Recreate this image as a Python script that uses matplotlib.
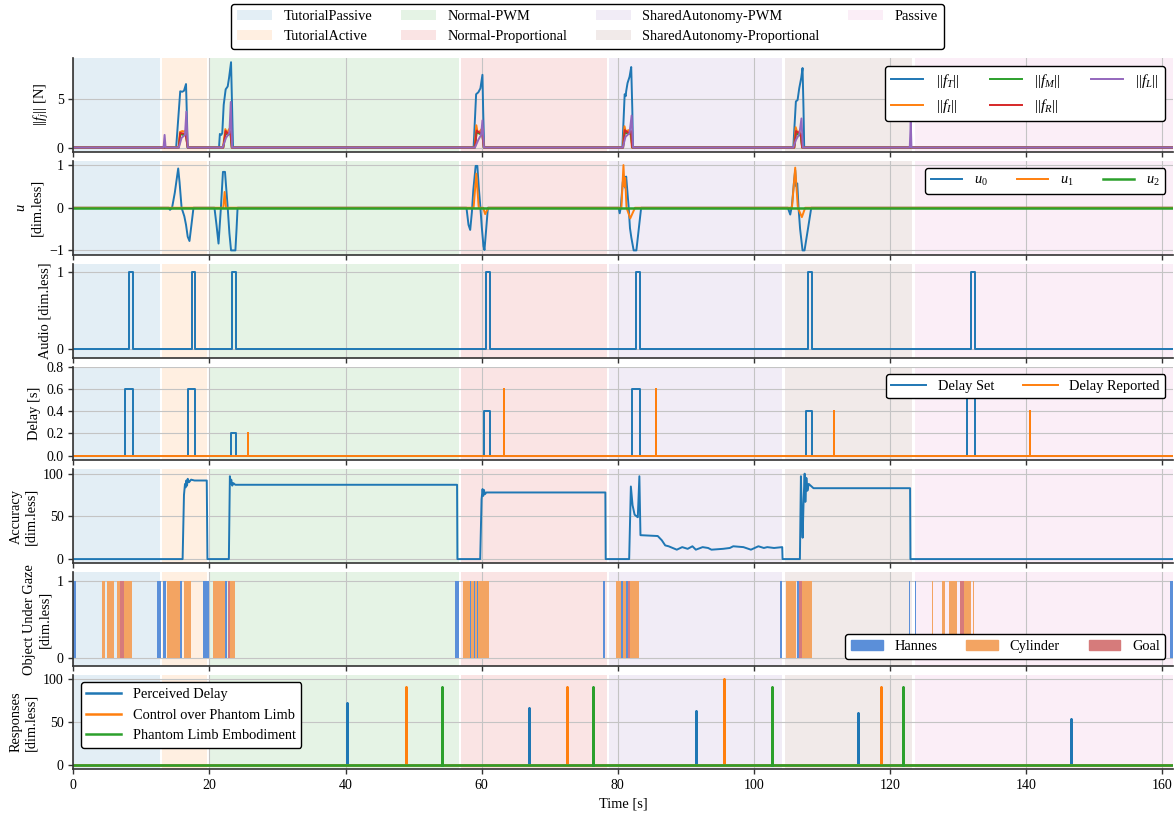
import numpy as np
import matplotlib
matplotlib.use("Agg")
import matplotlib.pyplot as plt
from matplotlib.patches import Patch

plt.rcParams.update({
    "font.family": "serif",
    "font.serif": ["Liberation Serif", "DejaVu Serif"],
    "mathtext.fontset": "custom",
    "mathtext.rm": "Liberation Serif",
    "mathtext.it": "Liberation Serif:italic",
    "mathtext.bf": "Liberation Serif:bold",
    "mathtext.fallback": "stix",
    "font.size": 10.4,
    "axes.unicode_minus": True,
    "legend.edgecolor": "black",
    "legend.framealpha": 1.0,
    "legend.fancybox": True,
    "legend.handlelength": 2.4,
})

T_END = 161.6

# ---- experiment phases ----
phase_names = ["TutorialPassive", "TutorialActive", "Normal-PWM", "Normal-Proportional",
               "SharedAutonomy-PWM", "SharedAutonomy-Proportional", "Passive"]
phase_start = [0.0, 12.95, 20.0, 57.0, 78.7, 104.6, 123.7]
phase_end = [12.7, 19.65, 56.7, 78.4, 104.2, 123.3, T_END]
phase_colors = ["tab:blue", "tab:orange", "tab:green", "tab:red",
                "tab:purple", "tab:brown", "tab:pink"]

# ---- finger forces [N] ----
fT_t = [0, 15.1, 15.7, 16.0, 16.25, 16.4, 16.55, 16.65, 16.8,
        21.4, 21.53, 21.73, 21.88, 22.09, 22.38, 22.68, 22.88, 23.17, 23.33, 23.46,
        58.83, 59.2, 59.53, 59.83, 60.13, 60.23, 60.38,
        80.7, 81.04, 81.19, 81.26, 81.46, 81.76, 82.0, 82.16, 82.26,
        105.83, 106.21, 106.46, 106.7, 107.0, 107.19, 107.33, 107.43, T_END]
fT_v = [0, 0, 5.8, 5.75, 5.85, 6.2, 6.55, 4.0, 0,
        0, 1.4, 1.3, 1.5, 4.4, 6.0, 6.3, 7.2, 8.8, 4.0, 0,
        0, 5.5, 5.7, 6.1, 7.5, 4.0, 0,
        0, 5.5, 5.3, 5.8, 6.65, 7.3, 8.3, 4.0, 0,
        0, 4.75, 4.9, 6.1, 7.2, 8.2, 4.0, 0, 0]

fI_t = [0, 15.45, 15.65, 16.0, 16.3, 16.6, 16.8,
        21.98, 22.33, 22.58, 22.88, 23.13, 23.28,
        58.98, 59.23, 59.43, 59.78, 60.13, 60.33,
        80.76, 81.01, 81.26, 81.56, 81.86, 82.11,
        105.93, 106.18, 106.43, 106.73, 106.98, 107.13, T_END]
fI_v = [0, 0, 1.6, 1.7, 1.65, 1.8, 0,
        0, 1.9, 1.5, 1.9, 1.6, 0,
        0, 2.3, 1.5, 1.7, 2.0, 0,
        0, 2.2, 1.5, 1.8, 1.6, 0,
        0, 2.1, 1.5, 1.7, 1.2, 0, 0]

fM_t = [0, 15.5, 15.7, 16.1, 16.5, 16.8,
        22.03, 22.38, 22.73, 23.08, 23.28,
        59.03, 59.28, 59.73, 60.08, 60.33,
        80.81, 81.06, 81.56, 81.96, 82.16,
        105.98, 106.23, 106.63, 106.93, 107.13, T_END]
fM_v = [0, 0, 1.4, 1.3, 1.4, 0,
        0, 1.5, 1.3, 1.5, 0,
        0, 1.6, 1.4, 1.5, 0,
        0, 1.6, 1.4, 1.5, 0,
        0, 1.5, 1.3, 1.2, 0, 0]

fR_t = fM_t
fR_v = [0, 0, 1.5, 1.45, 1.4, 0,
        0, 1.7, 1.4, 1.6, 0,
        0, 1.75, 1.5, 1.6, 0,
        0, 1.8, 1.5, 1.7, 0,
        0, 1.7, 1.5, 1.4, 0, 0]

fL_t = [0, 13.25, 13.4, 13.55,
        15.5, 15.9, 16.4, 16.6, 16.8,
        21.93, 22.43, 22.93, 23.13, 23.33,
        59.03, 59.53, 59.93, 60.13, 60.33,
        80.76, 81.16, 81.76, 82.06, 82.26,
        105.83, 106.23, 106.73, 107.03, 107.23,
        122.95, 123.1, 123.2, T_END]
fL_v = [0, 0, 1.3, 0,
        0, 1.0, 1.3, 3.7, 0,
        0, 1.0, 1.5, 4.7, 0,
        0, 0.8, 1.3, 2.8, 0,
        0, 1.1, 1.5, 3.3, 0,
        0, 0.8, 1.4, 3.0, 0,
        0, 2.7, 0, 0]

# ---- control commands u ----
u0_t = [0, 14.0, 14.2, 14.5, 14.9, 15.4, 15.6, 15.9, 16.1, 16.3, 16.55, 16.8, 17.06, 17.35, 17.65,
        20.73, 21.03, 21.33, 21.68, 21.98, 22.28, 22.68, 22.93, 23.17, 23.81, 23.98, 24.13,
        57.78, 58.08, 58.33, 58.58, 58.78, 59.13, 59.38, 59.58, 59.83, 60.03, 60.28, 60.43, 60.68, 60.93,
        80.16, 80.31, 80.46, 80.76, 80.96, 81.11, 81.26, 81.63, 81.82, 82.02, 82.36, 82.76, 83.11, 83.46,
        105.03, 105.38, 105.63, 105.93, 106.11, 106.26, 106.41, 106.6, 106.83, 107.19, 107.48, 107.98, 108.47,
        T_END]
u0_v = [0, 0, -0.05, 0, 0.35, 0.92, 0.6, 0.0, -0.1, -0.2, -0.4, -0.68, -0.78, -0.4, 0,
        0, -0.4, -0.84, 0, 0.84, 0.84, 0, -0.6, -1.0, -1.0, -0.5, 0,
        0, -0.4, -0.52, -0.1, 0.4, 0.98, 0.98, 0.5, 0, -0.45, -0.9, -0.99, -0.5, 0,
        0, -0.13, 0, 0.6, 0.73, 0.47, 0.73, 0, -0.48, -0.7, -1.0, -1.0, -0.5, 0,
        0, -0.16, 0.05, 0.6, 0.88, 0.5, 0.57, 0, -0.5, -1.0, -1.0, -0.5, 0,
        0]
u1_t = [0, 22.03, 22.23, 22.43,
        58.83, 59.23, 59.58, 60.23, 60.53, 60.98,
        80.56, 80.86, 81.01, 81.11, 81.31, 81.86, 82.56,
        105.63, 106.11, 106.33, 106.5, 107.09, 107.58, T_END]
u1_v = [0, 0, 0.37, 0,
        0, 0.8, 0, 0, -0.15, 0,
        0, 1.0, 0.5, 0.7, 0, -0.25, 0,
        0, 0.94, 0.4, 0, -0.22, 0, 0]
u2_t = [0, T_END]
u2_v = [0, 0]

# ---- audio cue ----
audio_on = [8.2, 17.4, 23.3, 60.7, 82.7, 108.05, 131.95]
audio_off = [8.7, 17.9, 23.9, 61.2, 83.25, 108.6, 132.5]

# ---- delay [s] ----
delay_on = [7.6, 16.8, 23.1, 60.3, 82.1, 107.7, 131.4]
delay_off = [8.7, 17.9, 23.9, 61.2, 83.25, 108.6, 132.5]
delay_val = [0.6, 0.6, 0.2, 0.4, 0.6, 0.4, 0.6]
reported_t = [25.7, 63.3, 85.7, 111.8, 140.6]
reported_v = [0.2, 0.6, 0.6, 0.4, 0.4]

# ---- accuracy ----
acc_t = [0, 16.05, 16.25, 16.4, 16.5, 16.6, 16.7, 16.8, 17.0, 17.3, 17.8, 19.6, 19.7,
         22.85, 23.0, 23.1, 23.2, 23.35, 23.5, 23.8, 56.4, 56.45,
         59.8, 60.0, 60.15, 60.25, 60.35, 60.5, 60.7, 78.2, 78.25,
         81.7, 81.95, 82.2, 82.5, 82.8, 82.97, 83.2, 83.36, 85.9, 86.5, 87.0, 87.5, 88.1, 88.7,
         89.5, 90.3, 91.0, 91.5, 92.5, 93.3, 93.8, 95.5, 96.5, 97.0, 98.5, 99.6, 100.7,
         101.5, 102.0, 103.0, 104.2, 104.25,
         106.8, 106.95, 107.05, 107.2, 107.35, 107.5, 107.6, 107.75, 107.9, 108.1, 108.8,
         123.0, 123.05, T_END]
acc_v = [0, 0, 75, 88, 84, 92, 86, 94, 90, 93, 92, 92, 0,
         0, 97, 88, 93, 86, 89, 87, 87, 0,
         0, 70, 82, 74, 81, 76, 78, 78, 0,
         0, 85, 63, 52, 50, 49, 97, 28, 27, 22, 16, 15, 13, 11,
         14, 12, 15, 11, 14, 13, 11, 12, 13, 15, 14, 11, 15,
         13, 14, 13, 14, 0,
         0, 97, 60, 25, 70, 100, 67, 95, 80, 88, 83,
         83, 0, 0]

# ---- object under gaze: (start, end) intervals ----
hannes_start = [0.0, 12.27, 13.16, 15.71, 19.0, 22.35, 56.04, 58.3, 58.86, 59.31,
                77.9, 80.5, 81.23, 103.85, 106.43, 122.9, 123.73, 161.2]
hannes_end = [0.35, 12.87, 13.55, 16.0, 19.94, 22.6, 56.7, 58.47, 59.09, 59.54,
              78.15, 80.73, 81.5, 104.2, 106.6, 123.05, 123.9, 161.6]
cylinder_start = [4.2, 5.0, 6.38, 7.46, 13.75, 16.2, 20.53, 23.08, 57.28, 58.47, 59.09,
                  59.54, 79.7, 80.73, 81.85, 104.8, 107.15, 126.2, 127.65, 128.7,
                  130.95, 132.24]
cylinder_end = [4.66, 5.98, 6.87, 8.64, 15.61, 17.33, 22.35, 23.82, 58.3, 58.86, 59.31,
                61.12, 80.5, 81.23, 83.1, 106.2, 108.55, 126.35, 128.15, 129.95,
                131.9, 132.4]
goal_start = [6.87, 22.74, 81.5, 106.7, 130.4]
goal_end = [7.46, 23.08, 81.85, 107.15, 130.95]

# ---- questionnaire responses ----
perceived_t = [40.2, 67.0, 91.5, 115.4, 146.6]
perceived_v = [72, 67, 63, 61, 54]
control_t = [48.9, 72.6, 95.7, 118.7]
control_v = [91, 91, 100, 91]
embodiment_t = [54.2, 76.4, 102.7, 121.9]
embodiment_v = [91, 91, 91, 91]


def pulse_series(on, off, val):
    t, v = [0.0], [0.0]
    for a, b, h in zip(on, off, val):
        t += [a, a, b, b]
        v += [0.0, h, h, 0.0]
    t.append(T_END)
    v.append(0.0)
    return t, v


def spike_series(times, vals):
    t, v = [0.0], [0.0]
    for a, h in zip(times, vals):
        t += [a, a, a]
        v += [0.0, h, 0.0]
    t.append(T_END)
    v.append(0.0)
    return t, v


fig = plt.figure(figsize=(11.75, 8.16), dpi=100)
axes = fig.subplots(7, 1, sharex=True)
fig.subplots_adjust(left=0.0625, right=0.998, top=0.929, bottom=0.0576, hspace=0.096)

for ax in axes:
    for s, e, c in zip(phase_start, phase_end, phase_colors):
        ax.axvspan(s, e, color=c, alpha=0.12, lw=0, zorder=0)
    ax.grid(True, color="#c4c4c4", lw=0.8, zorder=0.5)
    ax.set_axisbelow(True)
    for side in ("top", "right"):
        ax.spines[side].set_visible(False)
    for side in ("left", "bottom"):
        ax.spines[side].set_color("#333333")
        ax.spines[side].set_linewidth(1.2)
    ax.tick_params(direction="out", length=3.5, width=1.0, color="#333333", labelsize=10)
    ax.set_xlim(0, T_END)

lw = 1.4
# forces
ax = axes[0]
ax.plot(fT_t, fT_v, color="tab:blue", lw=lw, label=r"$||f_T||$")
ax.plot(fI_t, fI_v, color="tab:orange", lw=lw, label=r"$||f_I||$")
ax.plot(fM_t, fM_v, color="tab:green", lw=lw, label=r"$||f_M||$")
ax.plot(fR_t, fR_v, color="tab:red", lw=lw, label=r"$||f_R||$")
ax.plot(fL_t, fL_v, color="tab:purple", lw=lw, label=r"$||f_L||$")
ax.set_yticks([0, 5])
ax.set_ylabel(r"$||f_j||$ [N]")
ax.legend(loc="upper right", ncol=3, fontsize=11, handlelength=2.1)

# commands
ax = axes[1]
ax.plot(u0_t, u0_v, color="tab:blue", lw=lw, label=r"$u_0$")
ax.plot(u1_t, u1_v, color="tab:orange", lw=lw, label=r"$u_1$")
ax.plot(u2_t, u2_v, color="tab:green", lw=1.8, label=r"$u_2$")
ax.set_ylim(-1.1, 1.1)
ax.set_yticks([-1, 0, 1])
ax.set_ylabel("$u$\n[dim.less]")
ax.legend(loc="upper right", ncol=3, handlelength=2.2)

# audio
ax = axes[2]
at, av = pulse_series(audio_on, audio_off, [1.0] * len(audio_on))
ax.plot(at, av, color="tab:blue", lw=lw)
ax.set_ylim(-0.107, 1.107)
ax.set_yticks([0, 1])
ax.set_ylabel("Audio [dim.less]")

# delay
ax = axes[3]
dt_, dv_ = pulse_series(delay_on, delay_off, delay_val)
ax.plot(dt_, dv_, color="tab:blue", lw=lw, label="Delay Set")
rt_, rv_ = spike_series(reported_t, reported_v)
ax.plot(rt_, rv_, color="tab:orange", lw=lw, label="Delay Reported")
ax.set_ylim(-0.042, 0.8)
ax.set_yticks([0.0, 0.2, 0.4, 0.6, 0.8])
ax.set_ylabel("Delay [s]")
ax.legend(loc="upper right", ncol=2)

# accuracy
ax = axes[4]
ax.plot(acc_t, acc_v, color="tab:blue", lw=lw)
ax.set_ylim(-4.9, 105)
ax.set_yticks([0, 50, 100])
ax.set_ylabel("Accuracy\n[dim.less]")

# object under gaze
ax = axes[5]
gaze_colors = {"Hannes": "#5b8fd9", "Cylinder": "#f3a462", "Goal": "#d67b7b"}
for name, st, en in (("Hannes", hannes_start, hannes_end),
                     ("Cylinder", cylinder_start, cylinder_end),
                     ("Goal", goal_start, goal_end)):
    st = np.asarray(st)
    en = np.asarray(en)
    ax.bar(st, np.ones_like(st), width=en - st, align="edge",
           color=gaze_colors[name], lw=0, zorder=2)
ax.set_ylim(-0.107, 1.107)
ax.set_yticks([0, 1])
ax.set_ylabel("Object Under Gaze\n[dim.less]")
ax.legend(handles=[Patch(color=c, label=n) for n, c in gaze_colors.items()],
          loc="lower right", ncol=3, handlelength=2.2)

# responses
ax = axes[6]
pt, pv = spike_series(perceived_t, perceived_v)
ct, cv = spike_series(control_t, control_v)
et, ev = spike_series(embodiment_t, embodiment_v)
ax.plot(pt, pv, color="tab:blue", lw=1.8, label="Perceived Delay")
ax.plot(ct, cv, color="tab:orange", lw=1.8, label="Control over Phantom Limb")
ax.plot(et, ev, color="tab:green", lw=1.8, label="Phantom Limb Embodiment")
ax.set_ylim(-5, 105)
ax.set_yticks([0, 50, 100])
ax.set_ylabel("Responses\n[dim.less]")
ax.legend(loc="upper left", ncol=1)
ax.set_xlabel("Time [s]")
ax.set_xticks([0, 20, 40, 60, 80, 100, 120, 140, 160])

phase_handles = [Patch(facecolor=c, alpha=0.12, label=n, lw=0)
                 for n, c in zip(phase_names, phase_colors)]
fig.legend(handles=phase_handles, loc="upper center", ncol=4,
           bbox_to_anchor=(0.5, 1.004))

fig.savefig("out.png", dpi=100)
